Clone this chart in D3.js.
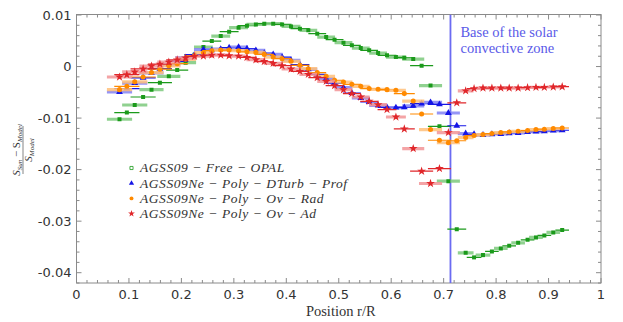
<!DOCTYPE html>
<html>
<head>
<meta charset="utf-8">
<script src="https://cdn.jsdelivr.net/npm/d3@7"></script>
<style>
  body { margin: 0; background: #fff; }
  #chart { width: 623px; height: 322px; }
</style>
</head>
<body>
<div id="chart"></div>
<script>
// Relative sound-speed-like differences vs. radius

const radius = [0.082, 0.096, 0.111, 0.127, 0.143, 0.159, 0.176, 0.192, 0.208, 0.225,
    0.242, 0.258, 0.275, 0.291, 0.309, 0.325, 0.342, 0.358, 0.375, 0.392,
    0.409, 0.426, 0.442, 0.459, 0.476, 0.492, 0.509, 0.525, 0.542, 0.558,
    0.575, 0.592, 0.609, 0.625, 0.642, 0.658, 0.675, 0.692, 0.709, 0.725,
    0.742, 0.758, 0.775, 0.792, 0.809, 0.825, 0.842, 0.860, 0.876, 0.892,
    0.909, 0.926];

const radiusErr = [0.024, 0.024, 0.024, 0.024, 0.023, 0.023, 0.022, 0.021, 0.020, 0.019,
    0.018, 0.018, 0.018, 0.018, 0.018, 0.018, 0.018, 0.018, 0.018, 0.018,
    0.018, 0.018, 0.017, 0.017, 0.017, 0.017, 0.017, 0.017, 0.017, 0.017,
    0.017, 0.018, 0.019, 0.020, 0.021, 0.022, 0.022, 0.022, 0.022, 0.018,
    0.015, 0.014, 0.014, 0.013, 0.013, 0.013, 0.013, 0.013, 0.013, 0.013,
    0.013, 0.013];

const freeOpal = [-0.01023, -0.00893, -0.00746, -0.00591, -0.00448, -0.00312, -0.00190, -0.00068, 0.00076, 0.00231,
    0.00378, 0.00494, 0.00591, 0.00676, 0.00754, 0.00793, 0.00818, 0.00831, 0.00831, 0.00818,
    0.00779, 0.00734, 0.00702, 0.00638, 0.00572, 0.00521, 0.00463, 0.00411, 0.00359, 0.00314,
    0.00262, 0.00217, 0.00184, 0.00172, 0.00145, 0.00017, -0.00370, -0.01159, -0.02225, -0.03155,
    -0.03614, -0.03703, -0.03659, -0.03587, -0.03529, -0.03479, -0.03421, -0.03362, -0.03316, -0.03277,
    -0.03219, -0.03174];

const dturbProf = [-0.00494, -0.00428, -0.00320, -0.00219, -0.00122, -0.00041, 0.00033, 0.00101, 0.00169, 0.00231,
    0.00328, 0.00314, 0.00339, 0.00366, 0.00378, 0.00347, 0.00314, 0.00260, 0.00236, 0.00184,
    0.00120, 0.00037, -0.00054, -0.00151, -0.00234, -0.00320, -0.00409, -0.00514, -0.00610, -0.00688,
    -0.00752, -0.00791, -0.00797, -0.00791, -0.00762, -0.00719, -0.00694, -0.00733, -0.00901, -0.01149,
    -0.01300, -0.01314, -0.01328, -0.01314, -0.01308, -0.01295, -0.01289, -0.01269, -0.01262, -0.01256,
    -0.01242, -0.01236];

const ovRad = [-0.00448, -0.00384, -0.00297, -0.00203, -0.00116, -0.00050, 0.00014, 0.00056, 0.00140, 0.00207,
    0.00269, 0.00308, 0.00320, 0.00320, 0.00308, 0.00285, 0.00275, 0.00236, 0.00184, 0.00153,
    0.00101, 0.00023, -0.00041, -0.00118, -0.00190, -0.00267, -0.00300, -0.00345, -0.00384, -0.00428,
    -0.00442, -0.00448, -0.00461, -0.00525, -0.00669, -0.00921, -0.01223, -0.01430, -0.01479, -0.01440,
    -0.01378, -0.01339, -0.01320, -0.01300, -0.01281, -0.01269, -0.01256, -0.01242, -0.01223, -0.01217,
    -0.01203, -0.01192];

const ovAd = [-0.00203, -0.00157, -0.00103, -0.00045, 0.00010, 0.00048, 0.00087, 0.00130, 0.00165, 0.00198,
    0.00203, 0.00223, 0.00223, 0.00211, 0.00203, 0.00178, 0.00134, 0.00097, 0.00062, 0.00017,
    -0.00048, -0.00093, -0.00151, -0.00215, -0.00287, -0.00370, -0.00448, -0.00525, -0.00591, -0.00674,
    -0.00738, -0.00835, -0.00979, -0.01211, -0.01591, -0.02031, -0.02269, -0.01979, -0.01281, -0.00703,
    -0.00471, -0.00428, -0.00417, -0.00417, -0.00417, -0.00417, -0.00417, -0.00409, -0.00403, -0.00403,
    -0.00397, -0.00390];

const seriesNames = ["AGSS09 \u2212 Free \u2212 OPAL", "AGSS09Ne \u2212 Poly \u2212 DTurb \u2212 Prof",
    "AGSS09Ne \u2212 Poly \u2212 Ov \u2212 Rad", "AGSS09Ne \u2212 Poly \u2212 Ov \u2212 Ad"];
const seriesValues = [freeOpal, dturbProf, ovRad, ovAd];

const xTicks = [0, 0.1, 0.2, 0.3, 0.4, 0.5, 0.6, 0.7, 0.8, 0.9, 1];
const yTicks = [0.01, 0, -0.01, -0.02, -0.03, -0.04];
const czBase = 0.713;

// colours: dark for marks/thin bars, light for thick bars
const styles = [
    { dark: "#1b9a1b", light: "#7cc97c", symbol: d3.symbolSquare, size: 16 },
    { dark: "#1515e6", light: "#8282f5", symbol: d3.symbolTriangle, size: 20 },
    { dark: "#ff8a00", light: "#ffbf7a", symbol: d3.symbolCircle, size: 20 },
    { dark: "#e0262a", light: "#f29496", symbol: d3.symbolStar, size: 24 }
];

const W = 623, H = 322;
const margin = { left: 76.5, right: 22, top: 14.5, bottom: 39 };

const svg = d3.select("#chart").append("svg")
    .attr("width", W).attr("height", H);

const x = d3.scaleLinear().domain([0, 1]).range([margin.left, W - margin.right]);
const y = d3.scaleLinear().domain([-0.042, 0.0101]).range([H - margin.bottom, margin.top]);

const x0 = x.range()[0], x1 = x.range()[1];
const y0 = y.range()[0], y1 = y.range()[1];

svg.append("clipPath").attr("id", "plotClip")
    .append("rect").attr("x", x0).attr("y", y1).attr("width", x1 - x0).attr("height", y0 - y1);

// frame
const frameColor = "#8a8a8a";
svg.append("rect")
    .attr("x", x0).attr("y", y1).attr("width", x1 - x0).attr("height", y0 - y1)
    .attr("fill", "none").attr("stroke", frameColor).attr("stroke-width", 1);

// ticks on all sides, pointing inward
const xMinor = d3.range(0, 1.0001, 0.02);
const yMinor = d3.range(-0.042, 0.0101, 0.002).map(v => Math.round(v * 1000) / 1000);
const tickG = svg.append("g").attr("stroke", frameColor).attr("stroke-width", 1);
xMinor.forEach(v => {
    const major = xTicks.some(t => Math.abs(t - v) < 1e-6);
    const len = major ? 5 : 3;
    tickG.append("line").attr("x1", x(v)).attr("x2", x(v)).attr("y1", y0).attr("y2", y0 - len);
    tickG.append("line").attr("x1", x(v)).attr("x2", x(v)).attr("y1", y1).attr("y2", y1 + len);
});
yMinor.forEach(v => {
    const major = yTicks.some(t => Math.abs(t - v) < 1e-6);
    const len = major ? 5 : 3;
    tickG.append("line").attr("y1", y(v)).attr("y2", y(v)).attr("x1", x0).attr("x2", x0 + len);
    tickG.append("line").attr("y1", y(v)).attr("y2", y(v)).attr("x1", x1).attr("x2", x1 - len);
});

// tick labels
svg.append("g").selectAll("text").data(xTicks).join("text")
    .attr("x", d => x(d)).attr("y", y0 + 16)
    .attr("text-anchor", "middle")
    .style("font-family", "'DejaVu Sans', sans-serif").style("font-size", "13px").attr("fill", "#333")
    .text(d => String(d));
svg.append("g").selectAll("text").data(yTicks).join("text")
    .attr("x", x0 - 5).attr("y", d => y(d)).attr("dy", "0.35em")
    .attr("text-anchor", "end")
    .style("font-family", "'DejaVu Sans', sans-serif").style("font-size", "13px").attr("fill", "#333")
    .text(d => String(d));

// axis titles
svg.append("text")
    .attr("x", (x0 + x1) / 2 + 2).attr("y", H - 6)
    .attr("text-anchor", "middle")
    .style("font-family", "'Liberation Serif', serif").style("font-size", "14.5px").attr("fill", "#333")
    .text("Position r/R");

const yl = svg.append("g").attr("transform", "translate(23,150) rotate(-90)")
    .style("font-family", "'Liberation Serif', serif").style("font-style", "italic").attr("fill", "#333");
const num = yl.append("text").attr("x", 0).attr("y", -3).attr("text-anchor", "middle").style("font-size", "11px");
num.append("tspan").text("S");
num.append("tspan").attr("dy", 2).style("font-size", "7px").text("Sun");
num.append("tspan").attr("dy", -2).style("font-style", "normal").text(" \u2212 S");
num.append("tspan").attr("dy", 2).style("font-size", "7px").text("Model");
yl.append("line").attr("x1", -24).attr("x2", 24).attr("y1", 0).attr("y2", 0)
    .attr("stroke", "#333").attr("stroke-width", 0.6);
const den = yl.append("text").attr("x", 0).attr("y", 9).attr("text-anchor", "middle").style("font-size", "11px");
den.append("tspan").text("S");
den.append("tspan").attr("dy", 2).style("font-size", "7px").text("Model");

// base of convection zone
const plot = svg.append("g").attr("clip-path", "url(#plotClip)");
plot.append("line")
    .attr("x1", x(czBase)).attr("x2", x(czBase)).attr("y1", y0).attr("y2", y1)
    .attr("stroke", "#6b6bf2").attr("stroke-width", 1.8);

[["Base of the solar", 37], ["convective zone", 53]].forEach(([t, ty]) => {
    svg.append("text")
        .attr("x", x(czBase) + 10).attr("y", ty)
        .style("font-family", "'Liberation Serif', serif").style("font-size", "14.5px")
        .attr("fill", "#5a5ae8")
        .text(t);
});

// series
seriesValues.forEach((vals, s) => {
    const st = styles[s];
    const pts = vals.map((v, i) => ({ r: radius[i], e: radiusErr[i], v: v, i: i }));
    const g = plot.append("g");
    g.selectAll("line").data(pts).join("line")
        .attr("x1", d => x(d.r - d.e)).attr("x2", d => x(d.r + d.e))
        .attr("y1", d => y(d.v)).attr("y2", d => y(d.v))
        .attr("stroke", d => d.i % 2 === 0 ? st.light : st.dark)
        .attr("stroke-opacity", d => d.i % 2 === 0 ? 0.85 : 1)
        .attr("stroke-width", d => d.i % 2 === 0 ? 3.2 : 1.2);
    g.selectAll("path").data(pts).join("path")
        .attr("transform", d => `translate(${x(d.r)},${y(d.v)})`)
        .attr("d", d3.symbol().type(st.symbol).size(st.size))
        .attr("fill", st.dark);
});

// legend
const legend = svg.append("g");
seriesNames.forEach((name, s) => {
    const ly = 168 + s * 15.2;
    legend.append("path")
        .attr("transform", `translate(131.5,${ly})`)
        .attr("d", d3.symbol().type(styles[s].symbol).size(styles[s].size * 0.6))
        .attr("fill", s === 0 ? "none" : styles[s].dark)
        .attr("stroke", s === 0 ? styles[s].dark : "none")
        .attr("stroke-width", 0.8);
    legend.append("text")
        .attr("x", 140).attr("y", ly).attr("dy", "0.32em")
        .style("font-family", "'Liberation Serif', serif").style("font-style", "italic")
        .style("font-size", "13.5px").style("letter-spacing", "0.55px").attr("fill", "#333")
        .text(name);
});
</script>
</body>
</html>
